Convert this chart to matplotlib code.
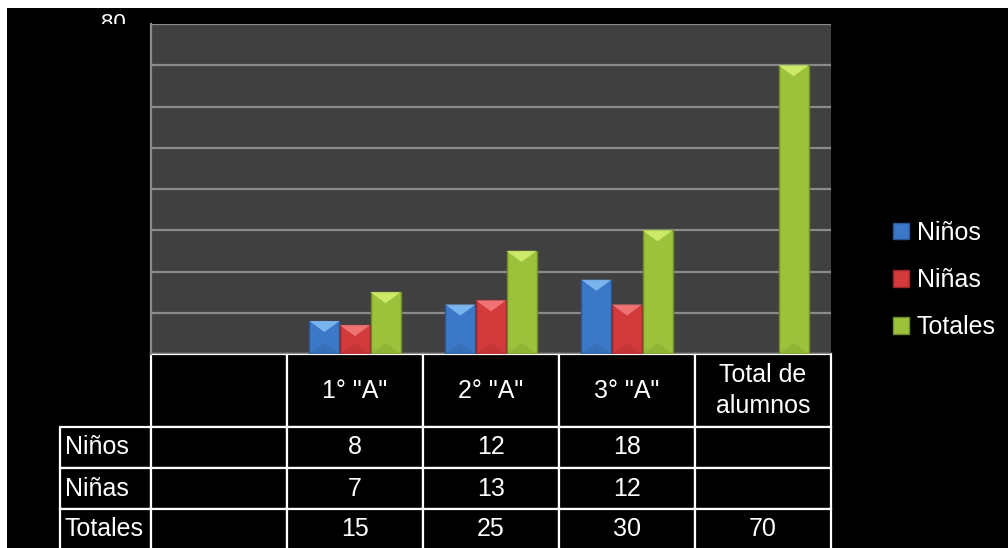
import numpy as np
import matplotlib
matplotlib.use("Agg")
import matplotlib.pyplot as plt
from matplotlib.patches import Rectangle, Polygon, Patch
from matplotlib.table import Table
from matplotlib.transforms import Bbox

plt.rcParams['font.family'] = ['Liberation Sans', 'DejaVu Sans']

# ---- data ----
categories = ['', '1° "A"', '2° "A"', '3° "A"', 'Total de\nalumnos']
series_names = ['Niños', 'Niñas', 'Totales']
ninos = [np.nan, 8, 12, 18, np.nan]
ninas = [np.nan, 7, 13, 12, np.nan]
totales = [np.nan, 15, 25, 30, 70]
y_ticks = [0, 10, 20, 30, 40, 50, 60, 70, 80]

series = [ninos, ninas, totales]
base_colors = ['#3c78c8', '#d23a3c', '#9cc23c']
edge_colors = ['#2a5590', '#98282a', '#6f8c27']
light_colors = ['#86bff5', '#f57e7e', '#d6f070']

W, H = 1008, 548
AX_L, AX_T, AX_W, AX_H = 151, 24, 680, 330   # plot area in pixels
fig = plt.figure(figsize=(W / 100, H / 100), dpi=100)
fig.patch.set_facecolor('white')
# black canvas with thin white strips on top and left
fig.patches.append(Rectangle((7 / W, 0), 1 - 7 / W, 1 - 8 / H, transform=fig.transFigure,
                             facecolor='black', edgecolor='none', zorder=-5))

ax = fig.add_axes([AX_L / W, (H - AX_T - AX_H) / H, AX_W / W, AX_H / H])
ax.set_facecolor('#404040')
ax.set_xlim(-0.5, len(categories) - 0.5)
ax.set_ylim(y_ticks[0], y_ticks[-1])
ax.set_yticks(y_ticks)
ax.yaxis.grid(True, color='#8a8a8a', linewidth=1.6)
ax.set_axisbelow(True)
ax.tick_params(left=False, bottom=False, labelleft=False, labelbottom=False)
for s in ['top', 'right', 'bottom']:
    ax.spines[s].set_visible(False)
ax.spines['left'].set_color('#8a8a8a')
ax.spines['left'].set_linewidth(1.6)

x = np.arange(len(categories))
bw = 0.222
offsets = [-0.225, 0.0, 0.225]
px_per_unit = AX_H / (y_ticks[-1] - y_ticks[0])
bevel = 11 / px_per_unit
for vals, off, bc, ec, lc, name in zip(series, offsets, base_colors, edge_colors, light_colors, series_names):
    bars = ax.bar(x + off, vals, width=bw, color=bc, edgecolor=ec, linewidth=1.0, label=name, zorder=2)
    for r in bars.patches:
        h = r.get_height()
        if not np.isfinite(h) or h <= 0:
            continue
        x0, w = r.get_x(), r.get_width()
        d = min(bevel, h)
        ax.add_patch(Polygon([(x0, h), (x0 + w, h), (x0 + w / 2, h - d)], closed=True,
                             facecolor=lc, edgecolor='none', alpha=0.85, zorder=3))
        ax.add_patch(Polygon([(x0, 0), (x0 + w, 0), (x0 + w / 2, min(d, h / 2))], closed=True,
                             facecolor=ec, edgecolor='none', alpha=0.25, zorder=3))

# clipped top tick label "80"
t = ax.text(-0.037, y_ticks[-1] + 0.2, str(y_ticks[-1]), transform=ax.get_yaxis_transform(),
            ha='right', va='center', color='white', fontsize=16)
t.set_clip_on(True)
t.set_clip_box(Bbox([[0, H - AX_T], [W, H - 8]]))

# data table built cell by cell (sizes in axes units; bbox = natural size)
def fmt(v):
    return '' if not np.isfinite(v) else str(int(v))

col_w = 1.0 / len(categories)
lab_w = 91 / AX_W
head_h = 73 / AX_H
row_h = 41 / AX_H
tot_h = head_h + row_h * len(series)
tbl = Table(ax, bbox=[0, -tot_h, 1, tot_h])
for c, cat in enumerate(categories):
    tbl.add_cell(0, c, width=col_w, height=head_h, text=cat, loc='center')
for r, (name, vals) in enumerate(zip(series_names, series), start=1):
    tbl.add_cell(r, -1, width=lab_w, height=row_h, text=name, loc='left')
    for c, v in enumerate(vals):
        tbl.add_cell(r, c, width=col_w, height=row_h, text=fmt(v), loc='center')
tbl.auto_set_font_size(False)
for (r, c), cell in tbl.get_celld().items():
    cell.set_facecolor('black')
    cell.set_edgecolor('white')
    cell.set_linewidth(1.6)
    cell.get_text().set_color('white')
    cell.get_text().set_fontsize(18)
    cell.get_text().set_linespacing(1.4)
    if c == -1:
        cell.PAD = 0.05
ax.add_table(tbl)

leg = fig.legend(handles=[Patch(facecolor=bc, edgecolor=ec) for bc, ec in zip(base_colors, edge_colors)],
                 labels=series_names, loc='center left', bbox_to_anchor=(893 / W, 1 - 280 / H),
                 frameon=False, fontsize=18, handlelength=0.65, handleheight=0.65,
                 handletextpad=0.3, labelspacing=0.93, borderpad=0, borderaxespad=0)
for txt in leg.get_texts():
    txt.set_color('white')

fig.savefig('out.png', dpi=100, facecolor=fig.get_facecolor())
